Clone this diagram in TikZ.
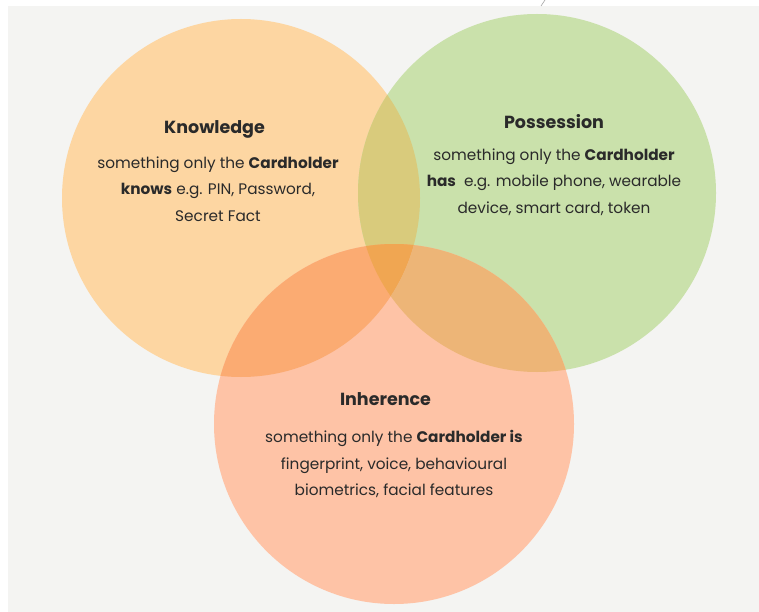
\documentclass[tikz,border=0pt]{standalone}
\usepackage{fontspec}
\setmainfont{Poppins}
\definecolor{bgcol}{HTML}{F4F4F2}
\definecolor{kcol}{HTML}{FDD6A2}
\definecolor{pcol}{HTML}{CAE1AB}
\definecolor{icol}{HTML}{FEC3A6}
\definecolor{kpcol}{HTML}{D9CB7C}
\definecolor{kicol}{HTML}{FBAB72}
\definecolor{picol}{HTML}{EDB577}
\definecolor{kpicol}{HTML}{F0A652}
\definecolor{txtcol}{HTML}{2A2A2A}
\tikzset{
  titletext/.style={text=txtcol, font=\fontsize{17.5}{20}\selectfont\bfseries, inner sep=0pt},
  bodytext/.style={text=txtcol, align=center, font=\fontsize{15.3}{26.7}\selectfont, inner sep=0pt},
}
\begin{document}
\begin{tikzpicture}[x=1pt,y=-1pt]
\useasboundingbox (0,0) rectangle (759,612);
\fill[white] (0,0) rectangle (759,612);
\fill[bgcol] (8,6) rectangle (760,613);
\draw[gray!70, line width=0.6pt] (541,6) -- (545,0);
\coordinate (K) at (241,198);
\coordinate (P) at (537,193);
\coordinate (I) at (394,424);
\def\R{179pt}
\fill[kcol] (K) circle[radius=\R];
\fill[pcol] (P) circle[radius=\R];
\fill[icol] (I) circle[radius=180pt];
\begin{scope}
  \clip (K) circle[radius=\R];
  \fill[kpcol] (P) circle[radius=\R];
  \fill[kicol] (I) circle[radius=180pt];
  \clip (P) circle[radius=\R];
  \fill[kpicol] (I) circle[radius=180pt];
\end{scope}
\begin{scope}
  \clip (P) circle[radius=\R];
  \begin{scope}[even odd rule]
    \clip (K) circle[radius=\R] (0,-100) rectangle (800,700);
    \fill[picol] (I) circle[radius=180pt];
  \end{scope}
\end{scope}
\node[titletext] (ktitle) at (214.5,129) {Knowledge};
\node[bodytext] (kbody) at (218,189) {something only the \textbf{Cardholder}\\\textbf{knows} e.g. PIN, Password,\\Secret Fact};
\node[titletext] (ptitle) at (554,122) {Possession};
\node[bodytext] (pbody) at (554,182) {something only the \textbf{Cardholder}\\\textbf{has}\ \ e.g. mobile phone, wearable\\device, smart card, token};
\node[titletext] (ititle) at (385.5,399) {Inherence};
\node[bodytext] (ibody) at (394,464) {something only the \textbf{Cardholder is}\\fingerprint, voice, behavioural\\biometrics, facial features};
\end{tikzpicture}
\end{document}
